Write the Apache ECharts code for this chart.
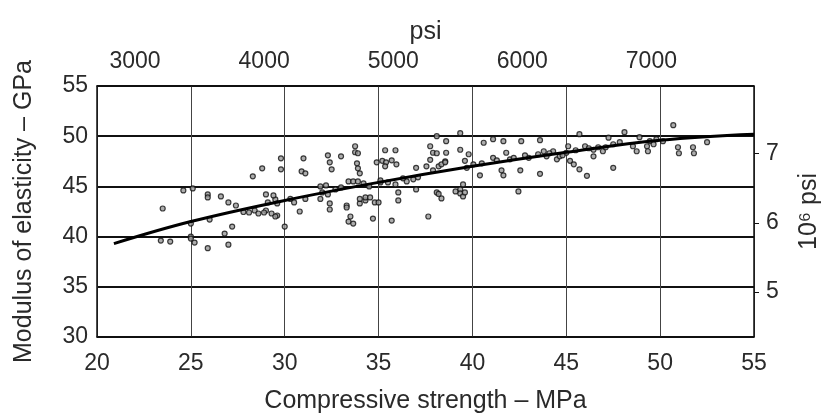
<!DOCTYPE html>
<html>
<head>
<meta charset="utf-8">
<script src="https://cdn.jsdelivr.net/npm/echarts@6/dist/echarts.min.js"></script>
<style>
  html, body { margin: 0; padding: 0; background: #fff; }
  #chart { width: 823px; height: 418px; }
</style>
</head>
<body>
<div id="chart"></div>
<script>
// Compressive strength (MPa) of each test point
var strengthMPa = [
  23.5, 23.4, 23.9, 24.6, 25.1, 25.0, 25.2, 25.0, 25.0, 25.9,
  25.9, 25.9, 26.0, 26.6, 26.8, 27.2, 27.0, 27.0, 27.4, 27.8,
  28.1, 28.4, 28.6, 29.0, 29.1, 29.0, 29.5, 29.6, 28.3, 28.8,
  29.8, 29.8, 28.9, 29.3, 29.4, 29.6, 29.5, 30.0, 30.3, 30.5,
  30.8, 31.0, 30.9, 31.1, 31.1, 31.9, 32.0, 32.2, 31.9, 32.3,
  32.4, 32.4, 32.3, 32.4, 32.5, 33.0, 33.75, 33.75, 33.9, 33.85,
  33.9, 34.0, 33.3, 33.3, 33.5, 33.4, 33.65, 33.4, 33.65, 33.9,
  34.0, 34.0, 34.3, 34.3, 34.5, 34.2, 34.55, 34.7, 34.8, 35.0,
  35.1, 35.1, 34.9, 35.2, 35.4, 35.7, 35.95, 35.35, 35.35, 35.9,
  35.7, 35.9, 36.05, 36.05, 36.5, 36.85, 37.1, 37.0, 37.0, 37.55,
  37.75, 37.75, 37.9, 38.1, 38.55, 37.65, 38.1, 38.35, 38.2, 37.9,
  38.2, 38.35, 38.1, 38.6, 38.6, 38.55, 39.35, 39.35, 39.8, 39.6,
  39.7, 40.05, 39.35, 39.35, 39.5, 39.1, 39.5, 39.6, 40.4, 40.6,
  41.1, 41.65, 41.1, 41.55, 41.65, 41.8, 42.0, 42.2, 42.45, 42.55,
  42.6, 43.0, 43.5, 43.6, 43.6, 43.8, 43.95, 44.3, 44.5, 44.65,
  45.0, 45.1, 45.2, 45.4, 45.7, 46.1, 45.7, 46.0, 46.45, 46.45,
  46.95, 47.5, 47.25, 47.1, 47.5, 47.85, 48.1, 48.55, 48.75, 48.9,
  49.3, 49.45, 49.65, 49.35, 49.8, 50.15, 50.7, 50.95, 51.0, 51.75,
  51.8, 52.5, 40.5, 41.3, 42.8, 44.1, 44.8, 45.5, 46.2, 46.7,
  35.5, 36.3, 33.0, 32.7
];
// Modulus of elasticity (GPa) of each test point
var modulusGPa = [
  42.8, 39.6, 39.5, 44.6, 44.8, 40.0, 39.4, 39.8, 41.3, 44.2,
  43.9, 38.85, 41.7, 44.0, 40.3, 41.0, 39.2, 43.4, 43.1, 42.45,
  42.4, 42.6, 42.3, 42.6, 43.4, 44.2, 43.7, 42.1, 46.0, 46.8,
  46.7, 47.8, 42.4, 42.3, 44.1, 43.3, 42.0, 41.0, 43.75, 43.4,
  42.5, 47.8, 46.5, 46.3, 43.75, 45.0, 44.4, 45.1, 43.75, 44.2,
  43.3, 42.7, 48.1, 47.4, 46.7, 48.0, 49.0, 48.4, 48.3, 47.3,
  46.8, 46.3, 43.1, 42.9, 42.0, 41.5, 41.3, 45.5, 45.5, 45.5,
  43.3, 43.75, 43.6, 43.9, 45.0, 45.3, 43.9, 41.8, 43.4, 43.4,
  45.4, 45.6, 47.4, 47.55, 47.4, 47.6, 47.2, 47.0, 48.6, 48.6,
  41.6, 45.2, 44.4, 43.6, 45.5, 45.7, 45.9, 44.7, 46.85, 47.0,
  47.65, 49.0, 48.35, 48.3, 47.5, 42.0, 44.4, 43.8, 44.25, 46.6,
  47.0, 47.2, 50.0, 49.5, 48.35, 47.4, 50.3, 48.65, 48.2, 47.55,
  46.85, 47.2, 44.7, 44.3, 44.0, 44.5, 45.2, 44.4, 46.1, 49.35,
  49.7, 49.5, 47.85, 46.6, 46.1, 48.35, 47.7, 47.85, 44.5, 46.6,
  49.5, 47.85, 48.2, 49.6, 46.25, 48.5, 48.0, 48.5, 47.7, 48.0,
  48.35, 49.0, 47.55, 47.2, 46.7, 46.05, 50.2, 49.0, 48.65, 48.0,
  48.5, 46.85, 49.85, 48.9, 49.2, 49.4, 50.4, 49.0, 48.5, 49.9,
  49.0, 49.5, 49.2, 48.5, 49.7, 49.5, 51.1, 48.9, 48.3, 48.9,
  48.3, 49.4, 47.3, 47.6, 48.1, 48.3, 48.1, 48.6, 48.8, 48.9,
  45.4, 45.8, 44.9, 44.7
];
// Fitted trend curve
var fitMPa = [20.9, 25, 30, 35, 40, 45, 50, 55];
var fitGPa = [39.3, 41.5, 43.6, 45.4, 47.0, 48.4, 49.6, 50.2];

// Axis ticks
var mpaTicks = [20, 25, 30, 35, 40, 45, 50, 55];
var gpaTicks = [30, 35, 40, 45, 50, 55];
var psiTicks = [3000, 4000, 5000, 6000, 7000];
var mpsiTicks = [5, 6, 7];

var FONT = '"Liberation Sans", Arial, sans-serif';
var TXT = '#2a2a2a';

var scatterData = strengthMPa.map(function (x, i) { return [x, modulusGPa[i]]; });
var fitData = fitMPa.map(function (x, i) { return [x, fitGPa[i]]; });
function plain(v) { return String(Math.round(v * 100) / 100); }

var chart = echarts.init(document.getElementById('chart'), null, { renderer: 'canvas' });
chart.setOption({
  backgroundColor: '#ffffff',
  animation: false,
  grid: { left: 97, right: 69, top: 86, bottom: 81, containLabel: false, outerBoundsMode: 'none' },
  xAxis: [
    {
      type: 'value', position: 'bottom', min: 20, max: 55, interval: 5,
      name: 'Compressive strength – MPa', nameLocation: 'middle', nameGap: 52,
      nameTextStyle: { fontFamily: FONT, fontSize: 25, color: TXT },
      axisLine: { show: true, lineStyle: { color: '#111', width: 1.5 } },
      axisTick: { show: false },
      axisLabel: { fontFamily: FONT, fontSize: 23, color: TXT, margin: 15, formatter: plain },
      splitLine: { show: true, lineStyle: { color: '#444', width: 1 } }
    },
    {
      type: 'value', position: 'top', min: 2705, max: 7795,
      name: 'psi', nameLocation: 'middle', nameGap: 40,
      nameTextStyle: { fontFamily: FONT, fontSize: 25, color: TXT },
      axisLine: { show: true, lineStyle: { color: '#111', width: 1.5 } },
      axisTick: { show: false },
      axisLabel: { fontFamily: FONT, fontSize: 23, color: TXT, margin: 13, customValues: psiTicks, formatter: plain },
      splitLine: { show: false }
    }
  ],
  yAxis: [
    {
      type: 'value', position: 'left', min: 30, max: 55, interval: 5,
      name: 'Modulus of elasticity – GPa', nameLocation: 'middle', nameGap: 60, nameRotate: 90,
      nameTextStyle: { fontFamily: FONT, fontSize: 25, color: TXT },
      axisLine: { show: true, lineStyle: { color: '#111', width: 1.5 } },
      axisTick: { show: false },
      axisLabel: { fontFamily: FONT, fontSize: 23, color: TXT, margin: 9, formatter: plain },
      splitLine: { show: true, lineStyle: { color: '#111', width: 2 } }
    },
    {
      type: 'value', position: 'right', min: 30 / 6.895, max: 55 / 6.895,
      name: '10⁶ psi', nameLocation: 'middle', nameGap: 43, nameRotate: 90,
      nameTextStyle: { fontFamily: FONT, fontSize: 25, color: TXT },
      axisLine: { show: true, lineStyle: { color: '#111', width: 1.5 } },
      axisTick: { show: true, length: 5, customValues: mpsiTicks, lineStyle: { color: '#111', width: 1 } },
      axisLabel: { fontFamily: FONT, fontSize: 23, color: TXT, margin: 12, customValues: mpsiTicks, formatter: plain },
      splitLine: { show: false }
    }
  ],
  series: [
    {
      type: 'scatter', xAxisIndex: 0, yAxisIndex: 0,
      data: scatterData, symbol: 'circle', symbolSize: 5,
      itemStyle: { color: '#999', borderColor: '#111', borderWidth: 1.2 }
    },
    {
      type: 'line', xAxisIndex: 0, yAxisIndex: 0,
      data: fitData, smooth: 0.4, symbol: 'none',
      lineStyle: { color: '#000', width: 3 }, z: 3
    }
  ]
});
</script>
</body>
</html>
